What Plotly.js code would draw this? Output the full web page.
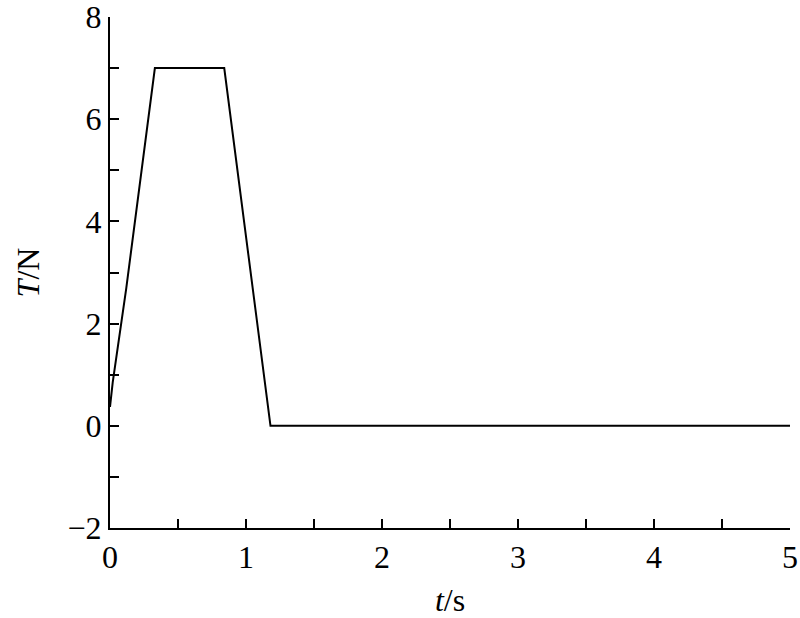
<!DOCTYPE html>
<html>
<head>
<meta charset="utf-8">
<script src="https://cdn.plot.ly/plotly-3.0.1.min.js"></script>
<style>html,body{margin:0;padding:0;background:#fff;}#chart{width:800px;height:618px;}</style>
</head>
<body>
<div id="chart"></div>
<script>
const timeS = [0, 0.02, 0.12, 0.33, 0.84, 1.18, 5];
const tensionN = [0.37, 0.85, 2.7, 7.0, 7.0, 0, 0];
const xTickVals = [0, 0.5, 1, 1.5, 2, 2.5, 3, 3.5, 4, 4.5, 5];
const xTickText = ['0', '', '1', '', '2', '', '3', '', '4', '', '5'];
const yTickVals = [-2, -1, 0, 1, 2, 3, 4, 5, 6, 7, 8];
const yTickText = ['\u22122', '', '0', '', '2', '', '4', '', '6', '', '8'];

const font = {family: '"Liberation Serif", serif', size: 32, color: '#000'};

Plotly.newPlot('chart', [{
  x: timeS, y: tensionN, type: 'scatter', mode: 'lines',
  line: {color: '#000', width: 2}, hoverinfo: 'none'
}], {
  width: 800, height: 618,
  margin: {l: 110, r: 10, t: 17, b: 90},
  paper_bgcolor: '#fff', plot_bgcolor: '#fff',
  showlegend: false,
  font: font,
  xaxis: {
    range: [0, 5], tickvals: xTickVals, ticktext: xTickText,
    ticks: 'inside', ticklen: 9, tickwidth: 2, tickcolor: '#000',
    showline: true, linecolor: '#000', linewidth: 2, mirror: false,
    showgrid: false, zeroline: false, tickfont: font, ticklabeloverflow: 'allow',
    title: {text: '<i>t</i>/s', font: font, standoff: 14}
  },
  yaxis: {
    range: [-2, 8], tickvals: yTickVals, ticktext: yTickText,
    ticks: 'inside', ticklen: 9, tickwidth: 2, tickcolor: '#000',
    showline: true, linecolor: '#000', linewidth: 2, mirror: false,
    showgrid: false, zeroline: false, tickfont: font, ticklabeloverflow: 'allow',
    title: {text: '<i>T</i>/N', font: font, standoff: 18}
  }
}, {displayModeBar: false, staticPlot: true});
</script>
</body>
</html>
